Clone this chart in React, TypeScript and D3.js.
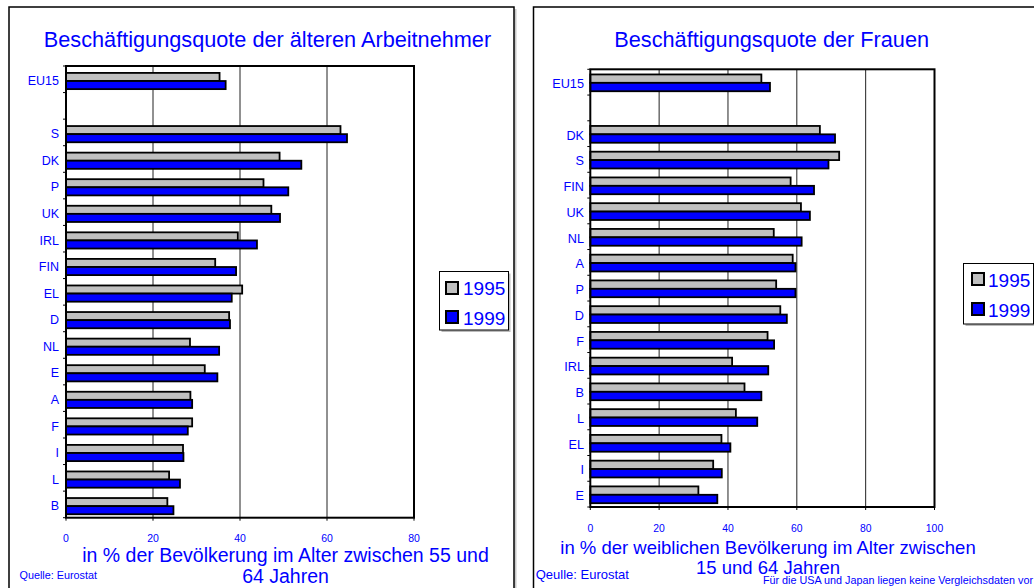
import React from "react";
import * as d3 from "d3";

// ---------- data ----------
const leftCategories = ["EU15", " ", "S", "DK", "P", "UK", "IRL", "FIN", "EL", "D", "NL", "E", "A", "F", "I", "L", "B"];
const left1995 = [35.3, null, 63.1, 49.1, 45.4, 47.2, 39.5, 34.3, 40.5, 37.5, 28.5, 31.9, 28.6, 29.0, 26.9, 23.7, 23.3];
const left1999 = [36.7, null, 64.6, 54.1, 51.1, 49.2, 43.9, 39.1, 38.1, 37.7, 35.2, 34.8, 29.0, 28.0, 27.0, 26.2, 24.7];
const leftTicks = [0, 20, 40, 60, 80];

const rightCategories = ["EU15", " ", "DK", "S", "FIN", "UK", "NL", "A", "P", "D", "F", "IRL", "B", "L", "EL", "I", "E"];
const right1995 = [49.7, null, 66.7, 72.3, 58.2, 61.2, 53.3, 58.8, 54.0, 55.2, 51.5, 41.2, 44.8, 42.3, 38.1, 35.7, 31.4];
const right1999 = [52.2, null, 71.1, 69.2, 65.0, 63.8, 61.4, 59.6, 59.6, 57.1, 53.4, 51.7, 49.7, 48.5, 40.7, 38.2, 36.9];
const rightTicks = [0, 20, 40, 60, 80, 100];

const seriesNames = ["1995", "1999"];
const seriesColors = ["#c0c0c0", "#0000ff"];

const TEXT = "#0000ff";
const FONT = "'Liberation Sans', Arial, sans-serif";

type PanelProps = {
  cats: string[];
  v1: (number | null)[];
  v2: (number | null)[];
  ticks: number[];
  plot: { x0: number; x1: number; y0: number; y1: number };
  barTop: number;
  barH: number;
  labelRight: number;
  labelSize: number;
  tickLabelY: number;
  tickSize: number;
  legend: { x: number; y: number; w: number; h: number; sx: number; sy: number[]; tx: number; ty: number[] };
};

function Panel(p: PanelProps) {
  const { plot } = p;
  const x = d3.scaleLinear().domain([p.ticks[0], p.ticks[p.ticks.length - 1]]).range([plot.x0, plot.x1]);
  const y = d3.scaleBand<string>().domain(p.cats).range([plot.y0, plot.y1]).padding(0);
  const step = y.step();
  const bars: React.ReactNode[] = [];
  p.cats.forEach((c, i) => {
    const yy = y(c)!;
    [p.v1[i], p.v2[i]].forEach((v, s) => {
      if (v == null) return;
      bars.push(
        <rect
          key={c + s}
          x={x(0)}
          y={yy + step * p.barTop + s * step * p.barH}
          width={x(v) - x(0)}
          height={step * p.barH}
          fill={seriesColors[s]}
          stroke="#000"
          strokeWidth={1.8}
        />
      );
    });
  });
  const L = p.legend;
  return (
    <g>
      <rect x={plot.x0} y={plot.y0} width={plot.x1 - plot.x0} height={plot.y1 - plot.y0} fill="#fff" />
      {p.ticks.slice(1, -1).map((t) => (
        <line key={"g" + t} x1={x(t)} x2={x(t)} y1={plot.y0} y2={plot.y1} stroke="#222" strokeWidth={1} />
      ))}
      {bars}
      <rect x={plot.x0} y={plot.y0} width={plot.x1 - plot.x0} height={plot.y1 - plot.y0} fill="none" stroke="#000" strokeWidth={2} />
      {p.cats.map((c, i) => (
        <line key={"ct" + i} x1={plot.x0 - 3} x2={plot.x0} y1={y(c)!} y2={y(c)!} stroke="#000" strokeWidth={1} />
      ))}
      <line x1={plot.x0 - 3} x2={plot.x0} y1={plot.y1} y2={plot.y1} stroke="#000" strokeWidth={1} />
      {p.ticks.map((t) => (
        <line key={"xt" + t} x1={x(t)} x2={x(t)} y1={plot.y1} y2={plot.y1 + 3} stroke="#000" strokeWidth={1} />
      ))}
      {p.cats.map((c) => (
        <text
          key={"cl" + c}
          x={p.labelRight}
          y={y(c)! + step / 2 + 1.5}
          dy="0.35em"
          textAnchor="end"
          fontSize={p.labelSize}
          fill={TEXT}
        >
          {c.trim()}
        </text>
      ))}
      {p.ticks.map((t) => (
        <text key={"tl" + t} x={x(t)} y={p.tickLabelY} textAnchor="middle" fontSize={p.tickSize} fill={TEXT}>
          {t}
        </text>
      ))}
      <rect x={L.x + 2} y={L.y + 2} width={L.w} height={L.h} fill="#bbb" />
      <rect x={L.x} y={L.y} width={L.w} height={L.h} fill="#fff" stroke="#000" strokeWidth={1} />
      {seriesNames.map((n, s) => (
        <g key={n}>
          <rect x={L.sx} y={L.sy[s]} width={12} height={12} fill={seriesColors[s]} stroke="#000" strokeWidth={2} />
          <text x={L.tx} y={L.ty[s]} fontSize={19} fill={TEXT}>
            {n}
          </text>
        </g>
      ))}
    </g>
  );
}

export default function App() {
  return (
    <svg
      width={1034}
      height={588}
      style={{ position: "absolute", left: 0, top: 0, background: "#fff" }}
      fontFamily={FONT}
    >
      <rect x={0} y={0} width={1034} height={588} fill="#fff" />
      <line x1={515.5} x2={515.5} y1={9} y2={588} stroke="#c8c8c8" strokeWidth={2} />
      <rect x={9} y={7} width={505} height={600} fill="#fff" stroke="#000" strokeWidth={1.5} />
      <rect x={533.5} y={7} width={520} height={600} fill="#fff" stroke="#000" strokeWidth={1.5} />

      <text x={267.5} y={47} textAnchor="middle" fontSize={21.7} fill={TEXT}>
        Beschäftigungsquote der älteren Arbeitnehmer
      </text>
      <Panel
        cats={leftCategories}
        v1={left1995}
        v2={left1999}
        ticks={leftTicks}
        plot={{ x0: 66, x1: 414, y0: 66, y1: 517.7 }}
        barTop={0.26}
        barH={0.305}
        labelRight={59}
        labelSize={12.5}
        tickLabelY={542}
        tickSize={10.5}
        legend={{ x: 439.5, y: 271.5, w: 69, h: 58.5, sx: 446, sy: [282, 311], tx: 463, ty: [295, 325] }}
      />
      <text x={285.5} y={562} textAnchor="middle" fontSize={19.5} fill={TEXT}>
        in % der Bevölkerung im Alter zwischen 55 und
      </text>
      <text x={285.5} y={583} textAnchor="middle" fontSize={19.5} fill={TEXT}>
        64 Jahren
      </text>
      <text x={19.5} y={579} fontSize={10.8} fill={TEXT}>
        Quelle: Eurostat
      </text>

      <text x={771.7} y={47} textAnchor="middle" fontSize={21.7} fill={TEXT}>
        Beschäftigungsquote der Frauen
      </text>
      <Panel
        cats={rightCategories}
        v1={right1995}
        v2={right1999}
        ticks={rightTicks}
        plot={{ x0: 590.3, x1: 934.5, y0: 69.3, y1: 507 }}
        barTop={0.2}
        barH={0.326}
        labelRight={584}
        labelSize={12.7}
        tickLabelY={532}
        tickSize={10.4}
        legend={{ x: 963.5, y: 263.5, w: 70, h: 60.5, sx: 972, sy: [273, 303], tx: 988, ty: [287, 317] }}
      />
      <text x={768} y={553.5} textAnchor="middle" fontSize={18.5} fill={TEXT}>
        in % der weiblichen Bevölkerung im Alter zwischen
      </text>
      <text x={768} y={573.5} textAnchor="middle" fontSize={18.5} fill={TEXT}>
        15 und 64 Jahren
      </text>
      <text x={535.7} y={578.5} fontSize={13} fill={TEXT}>
        Qeulle: Eurostat
      </text>
      <text x={1033} y={584} textAnchor="end" fontSize={10.8} fill={TEXT}>
        Für die USA und Japan liegen keine Vergleichsdaten vor
      </text>
    </svg>
  );
}
